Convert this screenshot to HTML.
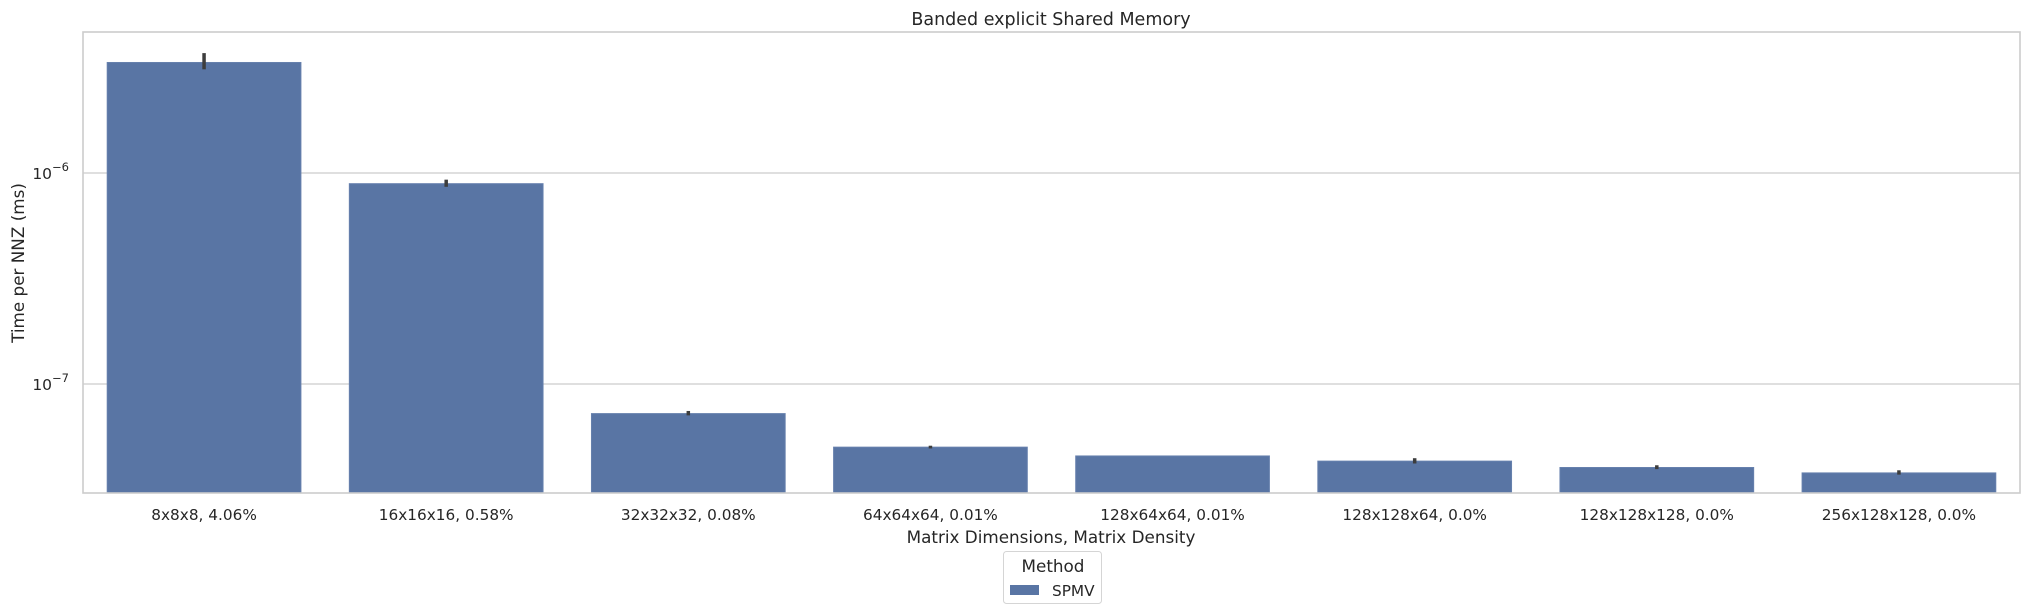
<!DOCTYPE html>
<html><head><meta charset="utf-8"><style>
body{margin:0;background:#fff;}
svg{display:block;font-family:"DejaVu Sans","Liberation Sans",sans-serif;}
</style></head><body>
<svg id="chart" width="2030" height="614" xmlns="http://www.w3.org/2000/svg"></svg>
<script>
const categories=["8x8x8, 4.06%","16x16x16, 0.58%","32x32x32, 0.08%","64x64x64, 0.01%","128x64x64, 0.01%","128x128x64, 0.0%","128x128x128, 0.0%","256x128x128, 0.0%"];
const values=[3.34e-6,8.9e-7,7.24e-8,5.02e-8,4.56e-8,4.31e-8,4.02e-8,3.79e-8];
const errLow=[3.1e-6,8.6e-7,7.1e-8,4.95e-8,4.56e-8,4.2e-8,3.95e-8,3.72e-8];
const errHigh=[3.7e-6,9.3e-7,7.45e-8,5.1e-8,4.56e-8,4.45e-8,4.12e-8,3.9e-8];
const yTickVals=[1e-6,1e-7];
const yTickExp=["\u22126","\u22127"];
const NS="http://www.w3.org/2000/svg";
const svg=document.getElementById('chart');
const L=83,R=2020,T=32,B=493;
function y(v){return 173-(Math.log10(v)+6)*211;}
const bw=(R-L)/categories.length;
function x(i){return L+bw*(i+0.5);}
function mk(t,a,p){const e=document.createElementNS(NS,t);for(const k in a)e.setAttribute(k,a[k]);(p||svg).appendChild(e);return e;}
yTickVals.forEach((v,i)=>{
 const g=mk('line',{x1:L,x2:R,y1:y(v),y2:y(v),stroke:'#cccccc','stroke-width':1.3});
 
 
 const t=mk('text',{x:L-14,y:y(v)+6,'text-anchor':'end','font-size':15.5,fill:'#262626'});
 
 
 t.textContent='10';
 const s=mk('tspan',{dy:-8,'font-size':11.5},t);s.textContent=yTickExp[i];
});
values.forEach((v,i)=>{
 const bx=x(i)-bw*0.4;
 const r=mk('rect',{x:bx,y:y(v),width:bw*0.8,height:B-y(v),fill:'#5975a4',stroke:'#6680ad','stroke-width':1});
 
 
 const e=mk('line',{x1:x(i),x2:x(i),y1:y(errHigh[i]),y2:y(errLow[i]),stroke:'#3d3d3d','stroke-width':3.5});
 
 
 const t=mk('text',{x:x(i),y:520,'text-anchor':'middle','font-size':15.3,fill:'#262626'});
 
 
 t.textContent=categories[i];
});
const fr=mk('rect',{x:L,y:T,width:R-L,height:B-T,fill:'none',stroke:'#cccccc','stroke-width':1.6});


</script>
<div style="position:absolute;left:0;top:0;width:2030px;height:614px;pointer-events:none;">
<svg width="2030" height="614" xmlns="http://www.w3.org/2000/svg" style="font-family:'DejaVu Sans','Liberation Sans',sans-serif">
<text x="1051" y="25" text-anchor="middle" font-size="17.5" fill="#262626">Banded explicit Shared Memory</text>
<text x="1051" y="543" text-anchor="middle" font-size="16.8" fill="#262626">Matrix Dimensions, Matrix Density</text>
<text transform="translate(24,263) rotate(-90)" text-anchor="middle" font-size="16.8" fill="#262626">Time per NNZ (ms)</text>
<g>
<rect x="1003.5" y="551.5" width="98" height="52" rx="3" fill="#fff" stroke="#d5d5d5" stroke-width="1"/>
<text x="1053" y="572" text-anchor="middle" font-size="16.8" fill="#262626">Method</text>
<rect x="1010" y="585" width="29" height="10" fill="#5975a4"/>
<text x="1052" y="596" font-size="15.3" fill="#262626">SPMV</text>
</g>
</svg></div>
</body></html>
